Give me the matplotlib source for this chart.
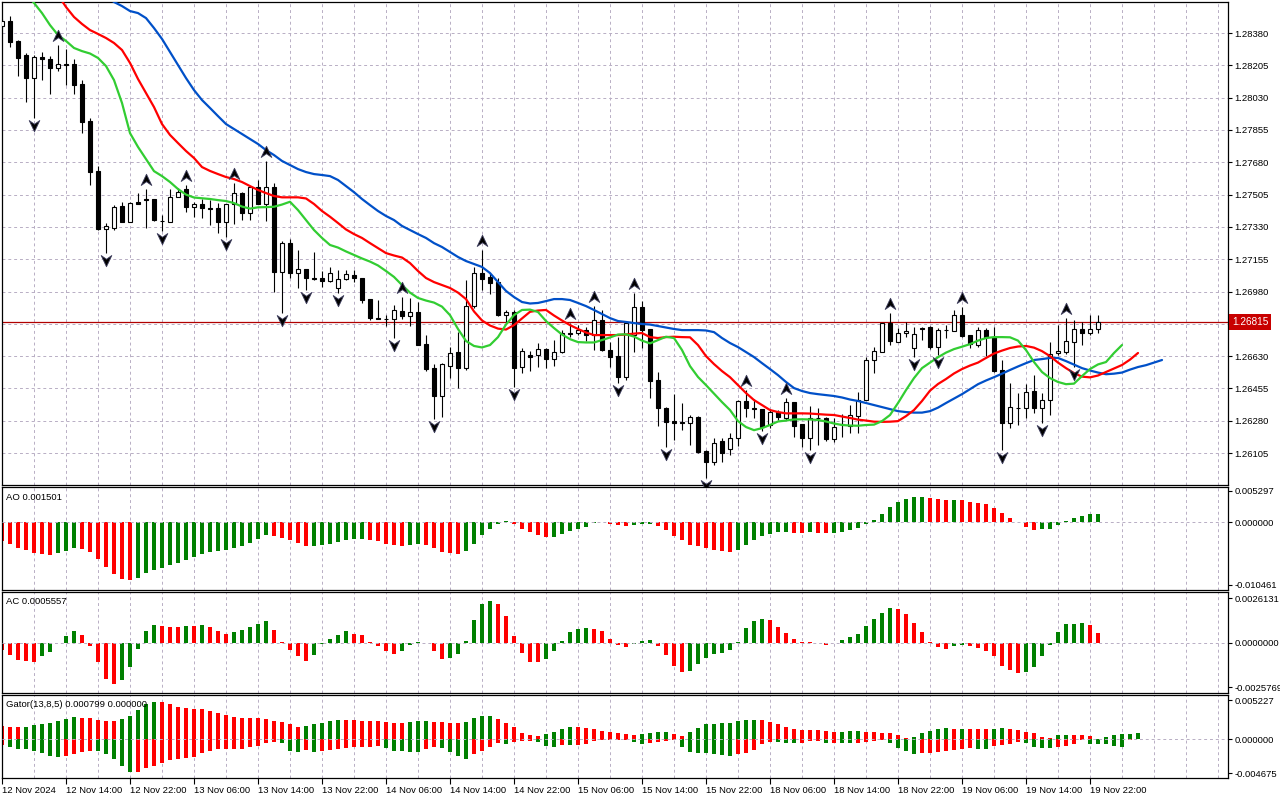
import numpy as np
import matplotlib
matplotlib.use("Agg")
import matplotlib.pyplot as plt
from matplotlib.path import Path
from matplotlib.transforms import offset_copy
from matplotlib.ticker import FormatStrFormatter

# ---------------- data (hourly bars, oldest first) ----------------
time_labels = ["12 Nov 2024", "12 Nov 14:00", "12 Nov 22:00", "13 Nov 06:00", "13 Nov 14:00",
               "13 Nov 22:00", "14 Nov 06:00", "14 Nov 14:00", "14 Nov 22:00", "15 Nov 06:00",
               "15 Nov 14:00", "15 Nov 22:00", "18 Nov 06:00", "18 Nov 14:00", "18 Nov 22:00",
               "19 Nov 06:00", "19 Nov 14:00", "19 Nov 22:00"]

open_ = [1.28418, 1.28445, 1.28337, 1.28261, 1.28138, 1.28248, 1.28238, 1.28189, 1.28210, 1.28210,
         1.28104, 1.27903, 1.27632, 1.27320, 1.27324, 1.27443, 1.27358, 1.27465, 1.27479, 1.27479,
         1.27363, 1.27358, 1.27493, 1.27533, 1.27439, 1.27454, 1.27430, 1.27430, 1.27358, 1.27454,
         1.27515, 1.27403, 1.27544, 1.27454, 1.27544, 1.27087, 1.27241, 1.27082, 1.27100, 1.27051,
         1.27054, 1.27037, 1.26997, 1.27046, 1.27069, 1.27051, 1.26937, 1.26838, 1.26831, 1.26829,
         1.26874, 1.26849, 1.26867, 1.26694, 1.26564, 1.26415, 1.26578, 1.26650, 1.26567, 1.26901,
         1.27082, 1.27057, 1.27033, 1.26852, 1.26870, 1.26569, 1.26636, 1.26636, 1.26667, 1.26612,
         1.26650, 1.26753, 1.26753, 1.26771, 1.26744, 1.26825, 1.26663, 1.26630, 1.26518, 1.26744,
         1.26894, 1.26775, 1.26500, 1.26350, 1.26278, 1.26271, 1.26266, 1.26301, 1.26116, 1.26058,
         1.26170, 1.26125, 1.26184, 1.26387, 1.26347, 1.26342, 1.26257, 1.26329, 1.26293, 1.26380,
         1.26262, 1.26184, 1.26296, 1.26296, 1.26179, 1.26262, 1.26251, 1.26307, 1.26392, 1.26609,
         1.26654, 1.26808, 1.26708, 1.26753, 1.26672, 1.26780, 1.26789, 1.26681, 1.26771, 1.26767,
         1.26852, 1.26744, 1.26690, 1.26771, 1.26732, 1.26555, 1.26269, 1.26351, 1.26347, 1.26441,
         1.26350, 1.26392, 1.26645, 1.26654, 1.26708, 1.26775, 1.26757, 1.26775]

high = [1.28456, 1.28472, 1.28340, 1.28272, 1.28261, 1.28279, 1.28255, 1.28315, 1.28293, 1.28238,
        1.28125, 1.27920, 1.27661, 1.27351, 1.27448, 1.27466, 1.27466, 1.27515, 1.27535, 1.27481,
        1.27394, 1.27535, 1.27539, 1.27557, 1.27466, 1.27479, 1.27475, 1.27458, 1.27456, 1.27565,
        1.27517, 1.27548, 1.27584, 1.27688, 1.27569, 1.27255, 1.27262, 1.27205, 1.27102, 1.27195,
        1.27092, 1.27114, 1.27096, 1.27096, 1.27096, 1.27053, 1.26939, 1.26934, 1.26852, 1.26907,
        1.26952, 1.26943, 1.26924, 1.26744, 1.26585, 1.26591, 1.26681, 1.26759, 1.27042, 1.27114,
        1.27205, 1.27078, 1.27053, 1.26880, 1.26880, 1.26672, 1.26659, 1.26699, 1.26672, 1.26717,
        1.26771, 1.26810, 1.26800, 1.26789, 1.26901, 1.26880, 1.26708, 1.26735, 1.26815, 1.26970,
        1.26930, 1.26777, 1.26545, 1.26352, 1.26424, 1.26377, 1.26311, 1.26307, 1.26121, 1.26184,
        1.26184, 1.26215, 1.26390, 1.26446, 1.26397, 1.26344, 1.26342, 1.26338, 1.26401, 1.26382,
        1.26264, 1.26360, 1.26349, 1.26298, 1.26293, 1.26315, 1.26365, 1.26437, 1.26623, 1.26681,
        1.26810, 1.26865, 1.26780, 1.26816, 1.26789, 1.26789, 1.26791, 1.26780, 1.26798, 1.26880,
        1.26895, 1.26746, 1.26789, 1.26780, 1.26789, 1.26609, 1.26483, 1.26428, 1.26479, 1.26527,
        1.26428, 1.26708, 1.26798, 1.26835, 1.26825, 1.26816, 1.26852, 1.26852]

low = [1.28407, 1.28306, 1.28147, 1.28008, 1.27920, 1.28125, 1.28050, 1.28176, 1.28098, 1.28048,
       1.27838, 1.27557, 1.27313, 1.27187, 1.27313, 1.27355, 1.27355, 1.27454, 1.27324, 1.27363,
       1.27309, 1.27356, 1.27490, 1.27412, 1.27385, 1.27376, 1.27340, 1.27295, 1.27277, 1.27345,
       1.27367, 1.27367, 1.27452, 1.27363, 1.26979, 1.26862, 1.27051, 1.27000, 1.26990, 1.27042,
       1.27006, 1.27033, 1.26970, 1.27042, 1.27033, 1.26916, 1.26825, 1.26829, 1.26793, 1.26726,
       1.26831, 1.26794, 1.26688, 1.26551, 1.26289, 1.26298, 1.26510, 1.26455, 1.26555, 1.26889,
       1.26988, 1.26966, 1.26850, 1.26808, 1.26464, 1.26540, 1.26551, 1.26572, 1.26564, 1.26578,
       1.26645, 1.26732, 1.26744, 1.26713, 1.26663, 1.26660, 1.26569, 1.26483, 1.26500, 1.26654,
       1.26672, 1.26401, 1.26251, 1.26139, 1.26175, 1.26229, 1.26148, 1.26106, 1.25968, 1.26040,
       1.26055, 1.26094, 1.26144, 1.26301, 1.26293, 1.26225, 1.26240, 1.26284, 1.26284, 1.26193,
       1.26139, 1.26121, 1.26148, 1.26172, 1.26166, 1.26193, 1.26212, 1.26212, 1.26390, 1.26537,
       1.26652, 1.26690, 1.26705, 1.26735, 1.26623, 1.26717, 1.26667, 1.26636, 1.26726, 1.26765,
       1.26735, 1.26672, 1.26681, 1.26630, 1.26545, 1.26121, 1.26239, 1.26257, 1.26293, 1.26323,
       1.26269, 1.26311, 1.26636, 1.26641, 1.26572, 1.26690, 1.26744, 1.26757]

close = [1.28445, 1.28333, 1.28243, 1.28138, 1.28248, 1.28238, 1.28189, 1.28210, 1.28208, 1.28098,
         1.27900, 1.27629, 1.27318, 1.27335, 1.27437, 1.27358, 1.27459, 1.27454, 1.27477, 1.27366,
         1.27361, 1.27493, 1.27520, 1.27439, 1.27454, 1.27430, 1.27428, 1.27358, 1.27454, 1.27512,
         1.27403, 1.27544, 1.27454, 1.27544, 1.27087, 1.27241, 1.27078, 1.27100, 1.27051, 1.27049,
         1.27038, 1.27078, 1.27046, 1.27075, 1.27051, 1.26934, 1.26835, 1.26831, 1.26829, 1.26880,
         1.26849, 1.26867, 1.26690, 1.26560, 1.26415, 1.26587, 1.26645, 1.26567, 1.26901, 1.27078,
         1.27047, 1.27027, 1.26852, 1.26867, 1.26564, 1.26659, 1.26627, 1.26667, 1.26612, 1.26650,
         1.26753, 1.26751, 1.26771, 1.26744, 1.26825, 1.26663, 1.26627, 1.26518, 1.26808, 1.26894,
         1.26771, 1.26497, 1.26347, 1.26274, 1.26266, 1.26269, 1.26301, 1.26112, 1.26058, 1.26157,
         1.26106, 1.26184, 1.26387, 1.26347, 1.26345, 1.26244, 1.26329, 1.26298, 1.26380, 1.26253,
         1.26184, 1.26296, 1.26294, 1.26179, 1.26247, 1.26260, 1.26311, 1.26392, 1.26609, 1.26657,
         1.26808, 1.26713, 1.26757, 1.26767, 1.26750, 1.26778, 1.26681, 1.26771, 1.26769, 1.26852,
         1.26739, 1.26694, 1.26771, 1.26735, 1.26551, 1.26269, 1.26352, 1.26349, 1.26434, 1.26350,
         1.26392, 1.26641, 1.26657, 1.26712, 1.26775, 1.26757, 1.26775, 1.26815]

# Alligator(13,8,5) lines, each ending at last bar + its forward shift
jaw_shift, teeth_shift, lips_shift = 8, 5, 3
jaw = [1.28580, 1.28548, 1.28526, 1.28499, 1.28488, 1.28461, 1.28407, 1.28348, 1.28277, 1.28207,
       1.28136, 1.28071, 1.28017, 1.27974, 1.27930, 1.27887, 1.27860, 1.27833, 1.27806, 1.27779,
       1.27746, 1.27719, 1.27687, 1.27665, 1.27643, 1.27627, 1.27616, 1.27611, 1.27605, 1.27584,
       1.27551, 1.27518, 1.27481, 1.27448, 1.27416, 1.27389, 1.27367, 1.27335, 1.27313, 1.27291,
       1.27270, 1.27242, 1.27221, 1.27194, 1.27167, 1.27145, 1.27129, 1.27113, 1.27080, 1.27031,
       1.26983, 1.26950, 1.26923, 1.26915, 1.26918, 1.26928, 1.26939, 1.26939, 1.26934, 1.26918,
       1.26901, 1.26880, 1.26858, 1.26836, 1.26820, 1.26815, 1.26809, 1.26804, 1.26801, 1.26793,
       1.26785, 1.26777, 1.26771, 1.26771, 1.26771, 1.26769, 1.26760, 1.26728, 1.26701, 1.26679,
       1.26652, 1.26625, 1.26592, 1.26560, 1.26527, 1.26490, 1.26457, 1.26441, 1.26430, 1.26424,
       1.26419, 1.26414, 1.26406, 1.26395, 1.26387, 1.26376, 1.26365, 1.26354, 1.26343, 1.26332,
       1.26327, 1.26324, 1.26324, 1.26332, 1.26351, 1.26376, 1.26400, 1.26424, 1.26451, 1.26478,
       1.26498, 1.26516, 1.26535, 1.26555, 1.26574, 1.26592, 1.26609, 1.26614, 1.26620, 1.26620,
       1.26603, 1.26584, 1.26565, 1.26552, 1.26541, 1.26532, 1.26535, 1.26541, 1.26557, 1.26571,
       1.26581, 1.26595, 1.26609]

teeth = [1.28586, 1.28521, 1.28467, 1.28429, 1.28396, 1.28375, 1.28353, 1.28326, 1.28288, 1.28218,
         1.28131, 1.28055, 1.27979, 1.27887, 1.27828, 1.27784, 1.27741, 1.27703, 1.27654, 1.27633,
         1.27616, 1.27600, 1.27589, 1.27573, 1.27551, 1.27530, 1.27513, 1.27497, 1.27490, 1.27490,
         1.27490, 1.27484, 1.27454, 1.27416, 1.27385, 1.27351, 1.27316, 1.27291, 1.27270, 1.27242,
         1.27215, 1.27188, 1.27175, 1.27164, 1.27134, 1.27091, 1.27053, 1.27031, 1.27015, 1.26999,
         1.26974, 1.26939, 1.26872, 1.26823, 1.26796, 1.26779, 1.26774, 1.26798, 1.26834, 1.26870,
         1.26877, 1.26880, 1.26850, 1.26823, 1.26798, 1.26777, 1.26758, 1.26744, 1.26744, 1.26744,
         1.26744, 1.26747, 1.26752, 1.26755, 1.26733, 1.26728, 1.26733, 1.26735, 1.26733, 1.26732,
         1.26690, 1.26630, 1.26587, 1.26549, 1.26516, 1.26473, 1.26430, 1.26392, 1.26365, 1.26338,
         1.26327, 1.26320, 1.26320, 1.26320, 1.26319, 1.26316, 1.26313, 1.26311, 1.26303, 1.26295,
         1.26286, 1.26281, 1.26275, 1.26274, 1.26275, 1.26278, 1.26305, 1.26338, 1.26387, 1.26443,
         1.26479, 1.26506, 1.26536, 1.26560, 1.26579, 1.26595, 1.26620, 1.26644, 1.26660, 1.26674,
         1.26682, 1.26685, 1.26676, 1.26657, 1.26630, 1.26595, 1.26565, 1.26538, 1.26519, 1.26515,
         1.26525, 1.26544, 1.26563, 1.26582, 1.26611, 1.26647]

lips = [1.28591, 1.28543, 1.28488, 1.28423, 1.28369, 1.28337, 1.28299, 1.28282, 1.28269, 1.28245,
        1.28201, 1.28125, 1.28001, 1.27838, 1.27763, 1.27698, 1.27632, 1.27605, 1.27573, 1.27535,
        1.27505, 1.27489, 1.27485, 1.27481, 1.27475, 1.27470, 1.27459, 1.27440, 1.27429, 1.27436,
        1.27437, 1.27439, 1.27451, 1.27466, 1.27421, 1.27367, 1.27313, 1.27270, 1.27232, 1.27218,
        1.27197, 1.27178, 1.27159, 1.27142, 1.27121, 1.27091, 1.27059, 1.27015, 1.26974, 1.26945,
        1.26931, 1.26920, 1.26898, 1.26852, 1.26777, 1.26712, 1.26685, 1.26677, 1.26690, 1.26733,
        1.26801, 1.26852, 1.26880, 1.26882, 1.26869, 1.26820, 1.26782, 1.26747, 1.26722, 1.26706,
        1.26704, 1.26704, 1.26717, 1.26731, 1.26747, 1.26748, 1.26736, 1.26714, 1.26699, 1.26717,
        1.26735, 1.26728, 1.26663, 1.26576, 1.26517, 1.26473, 1.26427, 1.26381, 1.26338, 1.26278,
        1.26246, 1.26229, 1.26240, 1.26257, 1.26276, 1.26281, 1.26287, 1.26288, 1.26287, 1.26284,
        1.26276, 1.26265, 1.26257, 1.26254, 1.26253, 1.26257, 1.26259, 1.26278, 1.26311, 1.26376,
        1.26446, 1.26511, 1.26565, 1.26595, 1.26624, 1.26649, 1.26668, 1.26681, 1.26695, 1.26714,
        1.26728, 1.26733, 1.26733, 1.26732, 1.26714, 1.26663, 1.26598, 1.26544, 1.26511, 1.26490,
        1.26478, 1.26481, 1.26522, 1.26560, 1.26585, 1.26598, 1.26647, 1.26690]

# Fractal bars (index into the bar arrays)
fractal_up = [7, 18, 23, 29, 33, 50, 60, 71, 74, 79, 93, 98, 111, 120, 133]
fractal_down = [4, 13, 20, 28, 35, 38, 42, 49, 54, 64, 77, 83, 88, 95, 101, 114, 117, 125, 130, 134]

# Awesome Oscillator (pips = 0.0001)
ao_pips = [-31.5, -35.5, -42.5, -46.9, -51.8, -53.4, -55.1, -51.8, -47.9, -43.6,
           -45.3, -49.5, -61.6, -74.0, -86.1, -94.3, -95.9, -92.6, -84.5, -79.6,
           -76.3, -71.4, -68.1, -63.2, -58.8, -53.4, -50.2, -48.5, -46.9, -43.6,
           -39.7, -34.3, -27.3, -20.8, -22.4, -26.1, -28.9, -34.3, -39.7, -39.5,
           -37.1, -35.5, -33.2, -28.9, -27.3, -27.0, -28.9, -30.6, -35.5, -38.5,
           -38.8, -37.1, -36.9, -37.2, -43.6, -49.5, -51.8, -53.4, -47.9, -35.5,
           -20.8, -10.9, -2.8, 2.1, -2.8, -10.9, -16.8, -20.8, -24.5, -24.3,
           -19.1, -14.2, -10.9, -7.0, -1.6, 1.1, -3.3, -4.4, -6.0, -4.4,
           -2.8, -2.6, -6.0, -12.6, -22.4, -29.9, -37.1, -39.7, -42.5, -46.2,
           -47.9, -49.5, -46.2, -37.1, -29.9, -23.4, -19.1, -16.8, -15.5, -17.5,
           -17.6, -15.8, -17.5, -17.6, -17.4, -15.8, -13.1, -9.3, -2.8, 4.9,
           14.2, 26.1, 34.8, 38.7, 42.5, 42.6, 40.9, 38.7, 37.6, 37.8,
           37.5, 34.8, 33.2, 30.6, 24.0, 15.2, 7.0, 0.5, -7.7, -11.9,
           -11.7, -10.3, -3.8, 2.1, 7.0, 11.4, 13.5, 15.01]

# Accelerator Oscillator (pips)
ac_pips = [-4.3, -6.8, -9.7, -10.3, -11.1, -7.8, -5.4, 0.2, 4.3, 7.2,
           4.5, -1.9, -11.3, -20.8, -23.7, -21.4, -14.0, -3.3, 7.2, 10.7,
           10.1, 9.3, 9.1, 9.7, 9.6, 10.3, 9.2, 6.8, 5.4, 6.2,
           7.8, 9.2, 11.3, 12.7, 7.8, 0.8, -3.9, -7.8, -10.7, -6.8,
           -0.8, 2.5, 4.8, 6.8, 5.4, 4.5, 0.8, -1.9, -4.8, -6.4,
           -4.5, -1.0, 0.6, -0.3, -4.5, -9.3, -8.7, -6.4, 1.2, 13.4,
           22.7, 24.5, 22.7, 15.7, 4.1, -5.7, -10.9, -11.0, -9.3, -4.5,
           1.2, 6.6, 8.2, 8.6, 8.0, 7.0, 2.3, -1.0, -2.2, -0.4,
           1.2, 1.7, -1.7, -7.0, -13.4, -16.7, -16.1, -12.2, -8.9, -6.6,
           -5.7, -4.1, 0.6, 8.6, 12.8, 14.0, 13.4, 9.3, 6.0, 2.3,
           0.8, 0.6, 0.1, -1.0, -0.2, 1.7, 3.5, 5.2, 10.1, 14.0,
           17.7, 20.4, 20.0, 16.9, 11.8, 6.6, 0.8, -2.2, -3.3, -1.6,
           -1.0, -1.6, -2.7, -4.5, -7.6, -13.4, -15.7, -17.3, -16.9, -13.8,
           -7.4, -1.0, 6.6, 10.9, 11.0, 11.8, 10.5, 5.557]

# Gator oscillator (pips): upper |jaw-teeth|, lower |teeth-lips|
gator_up_pips = [17.6, 15.9, 15.7, 16.7, 19.0, 20.4, 22.1, 24.8, 27.1, 29.4,
                 28.5, 28.4, 25.8, 24.8, 24.7, 27.1, 31.2, 39.4, 47.5, 50.2,
                 50.1, 47.5, 43.8, 41.7, 40.3, 40.2, 38.4, 34.9, 32.2, 30.3,
                 28.9, 28.5, 28.4, 26.7, 24.0, 22.7, 19.9, 16.7, 17.6, 19.9,
                 22.1, 24.8, 25.8, 25.7, 25.5, 24.8, 24.7, 24.0, 22.7, 22.1,
                 22.0, 23.5, 24.4, 24.5, 23.5, 23.4, 22.1, 22.0, 23.5, 28.9,
                 31.6, 31.7, 27.1, 22.1, 16.7, 8.5, 5.4, 4.5, 6.4, 9.9,
                 13.6, 16.7, 16.6, 14.5, 13.2, 11.3, 9.9, 8.5, 7.2, 5.8,
                 6.8, 7.7, 9.1, 9.9, 6.4, 4.5, 9.9, 15.3, 19.9, 20.8,
                 21.3, 22.1, 24.4, 25.8, 25.9, 25.6, 23.5, 20.8, 16.3, 13.6,
                 12.2, 12.1, 11.9, 10.9, 9.5, 9.6, 10.9, 11.0, 9.5, 9.4,
                 8.1, 8.0, 5.4, 1.4, 2.7, 8.1, 10.9, 13.6, 14.9, 13.6,
                 13.7, 13.6, 13.4, 13.3, 13.5, 14.9, 13.6, 12.2, 9.5, 8.1,
                 2.7, 1.4, 5.4, 5.6, 5.3, 5.2, 4.1, 0.4, 2.7, 5.4,
                 6.8, 6.9, 7.99]

gator_down_pips = [8.1, 10.4, 14.0, 14.1, 15.9, 18.6, 22.7, 24.0, 22.7, 20.4,
                   17.2, 15.9, 16.0, 20.4, 27.1, 36.2, 44.4, 44.2, 38.9, 36.2,
                   33.0, 28.5, 27.5, 26.2, 24.0, 18.6, 15.9, 14.0, 13.2, 13.0,
                   12.9, 10.4, 9.5, 5.8, 3.7, 5.8, 15.9, 17.2, 14.9, 17.2,
                   15.9, 14.9, 14.0, 12.6, 11.3, 10.9, 10.2, 9.5, 12.2, 15.9,
                   16.0, 17.2, 17.4, 14.0, 11.3, 12.6, 17.2, 22.7, 27.1, 20.8,
                   15.9, 10.4, 5.8, 7.2, 3.7, 2.7, 2.6, 3.7, 9.1, 10.4,
                   8.1, 8.8, 8.1, 6.4, 2.7, 1.4, 1.1, 1.0, 0.8, 3.7,
                   6.4, 5.8, 3.7, 2.7, 1.4, 10.4, 17.2, 18.6, 19.4, 20.8,
                   21.7, 22.7, 19.9, 18.6, 14.9, 7.2, 4.5, 4.7, 5.0, 5.2,
                   5.0, 2.3, 2.2, 5.0, 4.9, 5.0, 5.2, 5.0, 3.7, 2.3,
                   1.0, 5.0, 11.8, 15.9, 19.9, 18.6, 18.5, 17.2, 15.9, 14.5,
                   13.2, 11.8, 13.2, 13.3, 9.1, 7.7, 6.4, 3.7, 5.0, 10.4,
                   11.8, 11.9, 10.4, 9.1, 6.4, 1.4, 6.4, 6.5, 6.6, 9.1,
                   10.4, 1.4, 0.0]

price_grid = [1.28380, 1.28205, 1.28030, 1.27855, 1.27680, 1.27505, 1.27330,
              1.27155, 1.26980, 1.26805, 1.26630, 1.26455, 1.26280, 1.26105]
ao_ticks = [0.005297, 0.0, -0.010461]
ac_ticks = [0.0026131, 0.0, -0.0025769]
gator_ticks = [0.005227, 0.0, -0.004675]

# ---------------- styling ----------------
plt.rcParams['font.family'] = ['Liberation Sans', 'DejaVu Sans']
FS = 6.8
GRID = '#b8aec4'
HGREEN = '#008000'
HRED = '#ff0000'
BAR_PX = 8.0            # pixels per bar
W, H = 1280, 800

fig = plt.figure(figsize=(12.8, 8), dpi=100)
fig.patch.set_facecolor('white')


def px_axes(top, bottom, left=2, right=1228):
    return fig.add_axes([left / W, 1 - bottom / H, (right - left) / W, (bottom - top) / H])


ax = px_axes(2, 485)
ax_ao = px_axes(487, 590)
ax_ac = px_axes(592, 693)
ax_g = px_axes(695, 778)
axes = [ax, ax_ao, ax_ac, ax_g]

xmax = (1228 - 2) / BAR_PX
grid_x = np.arange(4, xmax, 4)

for a in axes:
    a.set_facecolor('white')
    a.set_xlim(0, xmax)
    for s in a.spines.values():
        s.set_color('black')
        s.set_linewidth(0.9)
    for gx in grid_x:
        a.axvline(gx, color=GRID, lw=0.7, ls=(0, (3, 3)), zorder=0.5)
    a.yaxis.tick_right()
    a.tick_params(axis='y', direction='out', length=3, width=0.8, pad=1.5,
                  labelsize=FS, colors='black')
    a.tick_params(axis='x', bottom=False, labelbottom=False, top=False)

# ---------------- main price panel ----------------
o = np.asarray(open_)
hi = np.asarray(high)
lo = np.asarray(low)
c = np.asarray(close)
n = len(c)
x = np.arange(n)

ax.set_ylim(1.25932, 1.28548)
for p in price_grid:
    ax.axhline(p, color=GRID, lw=0.7, ls=(0, (3, 3)), zorder=0.5)
# the grid level hidden behind the current-price tag carries no label
labelled = [p for p in price_grid if abs(p - c[-1]) > 0.0003]
ax.set_yticks(labelled)
ax.yaxis.set_major_formatter(FormatStrFormatter('%.5f'))

ax.axhline(c[-1], color='#b00000', lw=0.9, zorder=1)

ax.vlines(x, np.minimum(lo, np.minimum(o, c)), np.maximum(hi, np.maximum(o, c)),
          color='black', lw=0.8, zorder=2)
bull = c >= o
body_lo = np.minimum(o, c)
body_h = np.maximum(np.abs(c - o), 1e-6)
ax.bar(x[bull], body_h[bull], bottom=body_lo[bull], width=0.56, facecolor='white',
       edgecolor='black', lw=0.8, zorder=3)
ax.bar(x[~bull], body_h[~bull], bottom=body_lo[~bull], width=0.56, facecolor='black',
       edgecolor='black', lw=0.8, zorder=3)

for line, shift, col in ((jaw, jaw_shift, '#0050c8'), (teeth, teeth_shift, '#ff0000'),
                         (lips, lips_shift, '#32cd32')):
    end = n + shift
    ax.plot(np.arange(end - len(line), end), line, color=col, lw=1.6, zorder=4,
            solid_capstyle='round', solid_joinstyle='round')

up_arrow = Path([(0, 1), (0.85, -0.8), (0, -0.2), (-0.85, -0.8), (0, 1)],
                [Path.MOVETO, Path.LINETO, Path.LINETO, Path.LINETO, Path.CLOSEPOLY])
down_arrow = Path([(0, -1), (0.85, 0.8), (0, 0.2), (-0.85, 0.8), (0, -1)],
                  [Path.MOVETO, Path.LINETO, Path.LINETO, Path.LINETO, Path.CLOSEPOLY])
fu = np.asarray(fractal_up)
fd = np.asarray(fractal_down)
ax.plot(fu, hi[fu], ls='none', marker=up_arrow, ms=9, mfc='black', mec='#404060', mew=0.6,
        transform=offset_copy(ax.transData, fig=fig, x=0, y=9, units='dots'), zorder=6,
        clip_on=False)
ax.plot(fd, lo[fd], ls='none', marker=down_arrow, ms=9, mfc='black', mec='#404060', mew=0.6,
        transform=offset_copy(ax.transData, fig=fig, x=0, y=-7, units='dots'), zorder=6,
        clip_on=False)

ax.text(1.0 + 4 / 1226, c[-1], f"{c[-1]:.5f}", transform=ax.get_yaxis_transform(),
        ha='left', va='center', fontsize=FS + 0.4, color='white', zorder=10, clip_on=False,
        bbox=dict(boxstyle='square,pad=0.28', fc='#c80000', ec='none'))


# ---------------- indicator panels ----------------
def up_down_colors(v):
    v = np.asarray(v)
    rising = np.r_[False, v[1:] > v[:-1]]
    return np.where(rising, HGREEN, HRED)


ao = np.asarray(ao_pips) * 1e-4
ac = np.asarray(ac_pips) * 1e-4
gu = np.asarray(gator_up_pips) * 1e-4
gd = np.asarray(gator_down_pips) * 1e-4

ax_ao.set_ylim(-0.01134, 0.00596)
ax_ao.bar(np.arange(len(ao)), ao, width=0.5, color=up_down_colors(ao), zorder=2)
ax_ao.set_yticks(ao_ticks)
ax_ao.yaxis.set_major_formatter(FormatStrFormatter('%.6f'))

ax_ac.set_ylim(-0.00292, 0.00297)
ax_ac.bar(np.arange(len(ac)), ac, width=0.5, color=up_down_colors(ac), zorder=2)
ax_ac.set_yticks(ac_ticks)
ax_ac.yaxis.set_major_formatter(FormatStrFormatter('%.7f'))

ax_g.set_ylim(-0.00529, 0.00597)
ax_g.bar(np.arange(len(gu)), gu, width=0.5, color=up_down_colors(gu), zorder=2)
ax_g.bar(np.arange(len(gd)), -gd, width=0.5, color=up_down_colors(gd), zorder=2)
ax_g.set_yticks(gator_ticks)
ax_g.yaxis.set_major_formatter(FormatStrFormatter('%.6f'))

for a in (ax_ao, ax_ac, ax_g):
    a.axhline(0, color=GRID, lw=0.7, ls=(0, (3, 3)), zorder=3)

# time axis
label_pos = np.arange(len(time_labels)) * 8
ax_g.set_xticks(label_pos)
ax_g.set_xticklabels(time_labels, ha='left', fontsize=FS)
ax_g.tick_params(axis='x', bottom=True, labelbottom=True, direction='out', length=4,
                 width=0.8, pad=1.5)

# panel captions
fig.text(6 / W, 1 - 497 / H, f"AO {ao[-1]:.6f}", fontsize=FS, va='center', ha='left')
fig.text(6 / W, 1 - 602 / H, f"AC {ac[-1]:.7f}", fontsize=FS, va='center', ha='left')
fig.text(6 / W, 1 - 704.5 / H, f"Gator(13,8,5) {gu[-1]:.6f} {gd[-1]:.6f}", fontsize=FS,
         va='center', ha='left')

fig.savefig('out.png', dpi=100, facecolor='white')
